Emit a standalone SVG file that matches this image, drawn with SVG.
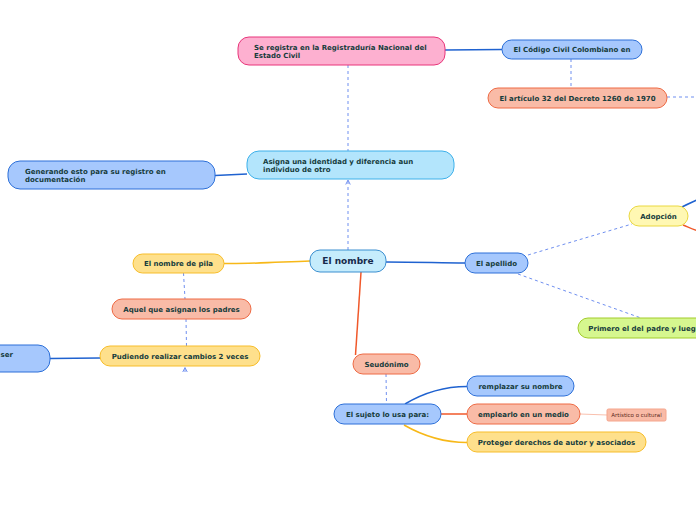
<svg xmlns="http://www.w3.org/2000/svg" width="696" height="520" viewBox="0 0 696 520">
<defs>
<style>
.t{font-family:"DejaVu Sans","Liberation Sans",sans-serif;font-weight:bold;font-size:7px;fill:#163c3c}
.c{text-anchor:middle}
.big{font-size:9px;fill:#172a4a}
.small{font-weight:normal;font-size:5.5px;fill:#5a2a20}
.blue rect{fill:#a6c8fd;stroke:#2c6fd8;stroke-width:1}
.pink rect{fill:#fdb0d0;stroke:#e8357a;stroke-width:1}
.salmon rect{fill:#f9bba7;stroke:#ee6a44;stroke-width:1}
.cyan rect{fill:#b3e5fc;stroke:#3cb0ea;stroke-width:1}
.center rect{fill:#c5ecfc;stroke:#3b8fd0;stroke-width:1}
.yellow rect{fill:#fee08c;stroke:#f7bd2a;stroke-width:1}
.lyellow rect{fill:#fff8b3;stroke:#ead840;stroke-width:1}
.green rect{fill:#d6f78f;stroke:#a2cc2a;stroke-width:1}
.tag rect{fill:#f9bba7;stroke:#f5a58c;stroke-width:1}
.lb{fill:none;stroke:#1f62d0;stroke-width:1.5}
.ly{fill:none;stroke:#f7b818;stroke-width:1.5}
.lr{fill:none;stroke:#f0582a;stroke-width:1.5}
.lt{fill:none;stroke:#f9c0ae;stroke-width:1.2}
.ld{fill:none;stroke:#6f8ff0;stroke-width:1;stroke-dasharray:3 3}
</style>
<marker id="ah" viewBox="0 0 8 8" refX="7" refY="4" markerWidth="6" markerHeight="6" orient="auto" markerUnits="userSpaceOnUse">
<path d="M1,1 L7,4 L1,7" fill="none" stroke="#6f8ff0" stroke-width="1.3"/>
</marker>
</defs>
<rect width="696" height="520" fill="#ffffff"/>
<g id="connectors">
<path class="lb" d="M445,50 L502,49.5"/>
<path class="ld" d="M571,59 L571,88"/>
<path class="ld" d="M667,97 L696,97"/>
<path class="ld" d="M348,65 L348,151"/>
<path class="ld" d="M348,250 L348,180" marker-end="url(#ah)"/>
<path class="lb" d="M247,174 L215,175.5"/>
<path class="ly" d="M310,261 C280,262 250,264 224,263.5"/>
<path class="lb" d="M386,262 C420,262 440,263 465,263"/>
<path class="lr" d="M361,272 L355.5,355"/>
<path class="ld" d="M183.5,273 L185,299"/>
<path class="ld" d="M186,319 L186.5,346"/>
<path class="ld" d="M185,372 L185,367.5" marker-end="url(#ah)"/>
<path class="lb" d="M100,358 L50,358.5"/>
<path class="ld" d="M528,255 L632,224"/>
<path class="ld" d="M518,274 L641,318"/>
<path class="lb" d="M682,207 C688,204 692,202 697,200"/>
<path class="lr" d="M683,225 C688,227 692,229 697,230.5"/>
<path class="ld" d="M386,374 L386.5,404"/>
<path class="lb" d="M405,404 C425,392 445,386.5 467,386.5"/>
<path class="lr" d="M441,414 L467,414"/>
<path class="ly" d="M404,425 C425,437 445,442.5 467,442.5"/>
<path class="lt" d="M580,414 L607,415"/>
</g>
<g id="n-registra" class="pink"><rect x="238" y="37" width="207" height="28" rx="11"/><text class="t" x="254" y="49.5">Se registra en la Registraduría Nacional del</text><text class="t" x="254" y="57.5">Estado Civil</text></g>
<g id="n-codigo" class="blue"><rect x="502" y="40" width="140" height="19" rx="9.5"/><text class="t c" x="572" y="52">El Código Civil Colombiano en</text></g>
<g id="n-art32" class="salmon"><rect x="488" y="88" width="179" height="20" rx="10"/><text class="t c" x="577.5" y="100.5">El artículo 32 del Decreto 1260 de 1970</text></g>
<g id="n-asigna" class="cyan"><rect x="247" y="151" width="207" height="28" rx="12"/><text class="t" x="263" y="163.5">Asigna una identidad y diferencia aun</text><text class="t" x="263" y="171.5">individuo de otro</text></g>
<g id="n-generando" class="blue"><rect x="8" y="161" width="207" height="28" rx="12"/><text class="t" x="25" y="173.5">Generando esto para su registro en</text><text class="t" x="25" y="181.5">documentación</text></g>
<g id="n-nombre" class="center"><rect x="310" y="250" width="76" height="22" rx="10"/><text class="t c big" x="348" y="264.3">El nombre</text></g>
<g id="n-pila" class="yellow"><rect x="133" y="254" width="91" height="19" rx="9.5"/><text class="t c" x="178.5" y="266">El nombre de pila</text></g>
<g id="n-aquel" class="salmon"><rect x="112" y="299" width="139" height="20" rx="10"/><text class="t c" x="181.5" y="311.5">Aquel que asignan los padres</text></g>
<g id="n-pudiendo" class="yellow"><rect x="100" y="346" width="160" height="20" rx="10"/><text class="t c" x="180" y="358.5">Pudiendo realizar cambios 2 veces</text></g>
<g id="n-left" class="blue"><rect x="-150" y="345" width="200" height="27" rx="12"/><text class="t" x="0.5" y="356.5">ser</text></g>
<g id="n-apellido" class="blue"><rect x="465" y="253" width="63" height="20" rx="10"/><text class="t c" x="496.5" y="265.5">El apellido</text></g>
<g id="n-adopcion" class="lyellow"><rect x="629" y="206" width="59" height="20" rx="10"/><text class="t c" x="658.5" y="218.5">Adopción</text></g>
<g id="n-primero" class="green"><rect x="578" y="318" width="160" height="20" rx="10"/><text class="t" x="588.3" y="330.5">Primero el del padre y lueg</text></g>
<g id="n-seudonimo" class="salmon"><rect x="353" y="354" width="67" height="20" rx="10"/><text class="t c" x="386.5" y="366.5">Seudónimo</text></g>
<g id="n-sujeto" class="blue"><rect x="334" y="404" width="107" height="20" rx="10"/><text class="t c" x="387.5" y="416.5">El sujeto lo usa para:</text></g>
<g id="n-remplazar" class="blue"><rect x="467" y="376" width="107" height="20" rx="10"/><text class="t c" x="520.5" y="388.5">remplazar su nombre</text></g>
<g id="n-emplearlo" class="salmon"><rect x="467" y="404" width="113" height="20" rx="10"/><text class="t c" x="523.5" y="416.5">emplearlo en un medio</text></g>
<g id="n-artistico" class="tag"><rect x="607" y="409" width="59" height="12" rx="1.5"/><text class="t c small" x="636.5" y="417">Artístico o cultural</text></g>
<g id="n-proteger" class="yellow"><rect x="467" y="432" width="179" height="20" rx="10"/><text class="t c" x="556.5" y="444.5">Proteger derechos de autor y asociados</text></g>
</svg>
